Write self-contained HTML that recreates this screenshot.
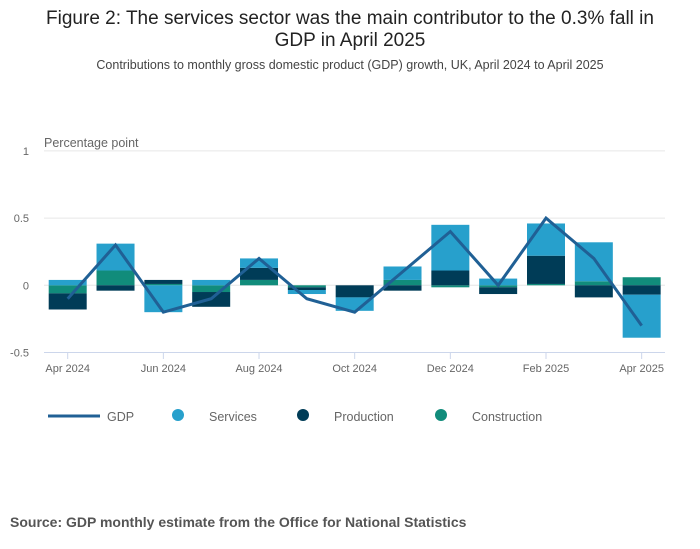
<!DOCTYPE html>
<html><head><meta charset="utf-8"><style>
body{margin:0;background:#fff;font-family:"Liberation Sans",sans-serif;}
#wrap{position:relative;width:700px;height:549px;overflow:hidden;}
</style></head><body>
<div id="wrap">
<svg width="700" height="549" id="svg">
<text x="350" y="24" text-anchor="middle" font-size="19" fill="#222">Figure 2: The services sector was the main contributor to the 0.3% fall in</text>
<text x="350" y="46" text-anchor="middle" font-size="19" fill="#222">GDP in April 2025</text>
<text x="350" y="69" text-anchor="middle" font-size="12.5" fill="#444">Contributions to monthly gross domestic product (GDP) growth, UK, April 2024 to April 2025</text>
<text x="44" y="147" font-size="12.5" fill="#666">Percentage point</text>
<g id="grid"></g><g id="bars"></g><g id="line"></g><g id="xt"></g>
<g>
<line x1="48" y1="416" x2="100" y2="416" stroke="#206095" stroke-width="3"/>
<text x="107" y="421" font-size="12.5" fill="#666">GDP</text>
<circle cx="178" cy="415" r="6" fill="#27a0cc"/>
<text x="209" y="421" font-size="12.5" fill="#666">Services</text>
<circle cx="303" cy="415" r="6" fill="#003c57"/>
<text x="334" y="421" font-size="12.5" fill="#666">Production</text>
<circle cx="441" cy="415" r="6" fill="#118c7b"/>
<text x="472" y="421" font-size="12.5" fill="#666">Construction</text>
</g>
<text x="10" y="527" font-size="14" font-weight="bold" fill="#555">Source: GDP monthly estimate from the Office for National Statistics</text>
</svg></div>
<script>
const categories=["Apr 2024","May 2024","Jun 2024","Jul 2024","Aug 2024","Sep 2024","Oct 2024","Nov 2024","Dec 2024","Jan 2025","Feb 2025","Mar 2025","Apr 2025"];
const services=[0.04,0.2,-0.2,0.04,0.07,-0.03,-0.1,0.1,0.34,0.05,0.24,0.29,-0.32];
const production=[-0.12,-0.04,0.03,-0.11,0.09,-0.02,-0.09,-0.04,0.11,-0.05,0.21,-0.09,-0.07];
const construction=[-0.06,0.11,0.01,-0.05,0.04,-0.015,0,0.04,-0.015,-0.015,0.01,0.03,0.06];
const gdp=[-0.1,0.3,-0.2,-0.1,0.2,-0.1,-0.2,0.1,0.4,0.0,0.5,0.2,-0.3];
const yTicks=[1,0.5,0,-0.5];
const yTickLabels=["1","0.5","0","-0.5"];
const xTickLabelIdx=[0,2,4,6,8,10,12];
const NS="http://www.w3.org/2000/svg";
const y=v=>285.3-v*134.4;
const x=i=>67.7+i*47.83;
function mk(t,a,p){const e=document.createElementNS(NS,t);for(const k in a)e.setAttribute(k,a[k]);p.appendChild(e);return e;}
const G=document.getElementById('grid');
yTicks.forEach((t,i)=>{
 const l=mk('line',{x1:44,x2:665,y1:y(t),y2:y(t),stroke:t===-0.5?'#ccd6eb':'#e6e6e6','stroke-width':1},G);
 
 
 const tx=mk('text',{x:29,y:y(t)+4,'text-anchor':'end','font-size':11,fill:'#666'},G);
 tx.textContent=yTickLabels[i];
 
 
});
const B=document.getElementById('bars');
const series=[["construction",construction,"#118c7b"],["production",production,"#003c57"],["services",services,"#27a0cc"]];
categories.forEach((c,i)=>{
 let pos=0,neg=0;
 series.forEach(([n,arr,col])=>{
  const v=arr[i];let a,b;
  if(v>=0){a=pos;b=pos+v;pos=b;}else{a=neg;b=neg+v;neg=b;}
  const r=mk('rect',{x:x(i)-19,width:38,y:Math.min(y(a),y(b)),height:Math.abs(y(a)-y(b)),fill:col},B);
  
  
 });
});
const L=document.getElementById('line');
const pl=mk('polyline',{points:gdp.map((v,i)=>x(i)+','+y(v)).join(' '),fill:'none',stroke:'#206095','stroke-width':3,'stroke-linejoin':'miter'},L);


const X=document.getElementById('xt');
xTickLabelIdx.forEach(i=>{
 const t=mk('line',{x1:x(i),x2:x(i),y1:352,y2:359,stroke:'#ccd6eb'},X);
 
 
 const tx=mk('text',{x:x(i),y:372,'text-anchor':'middle','font-size':11,fill:'#666'},X);
 tx.textContent=categories[i];
 
 
});
</script>
</body></html>
